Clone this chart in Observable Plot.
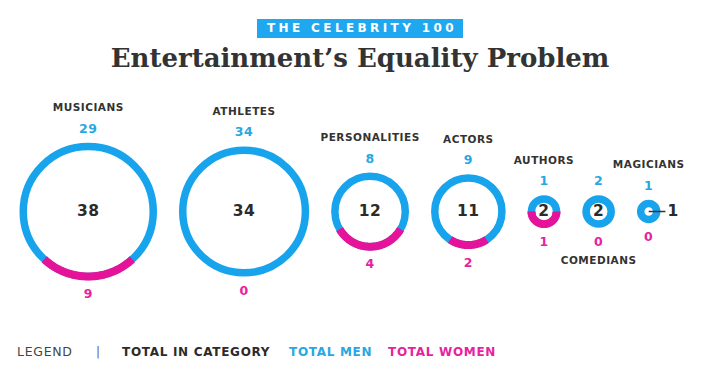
<!DOCTYPE html>
<html>
<head>
<meta charset="utf-8">
<script src="https://cdn.jsdelivr.net/npm/d3@7"></script>
<script src="https://cdn.jsdelivr.net/npm/@observablehq/plot@0.6"></script>
<style>
  html, body { margin: 0; padding: 0; background: #fff; }
  #wrap { position: relative; width: 720px; height: 378px; overflow: hidden; font-family: "DejaVu Sans", sans-serif; }
  #badge { position: absolute; top: 17px; left: 0; width: 720px; text-align: center; }
  #badge span { display: inline-block; background: #1fa8ef; color: #fff; font-weight: bold; font-size: 12px; letter-spacing: 3.4px; line-height: 19px; height: 19px; padding: 0 6px 0 10px; }
  #title { position: absolute; top: 45px; left: 0; width: 720px; text-align: center; font-family: "DejaVu Serif", serif; font-weight: bold; font-size: 26px; line-height: 26px; color: #333; }
  #chart { position: absolute; top: 85px; left: 0; width: 720px; }
  #chart svg text { letter-spacing: 0.5px; }
  #legend span { position: absolute; top: 344px; line-height: 16px; font-size: 12px; letter-spacing: 0.7px; white-space: nowrap; }
</style>
</head>
<body>
<div id="wrap">
  <div id="badge"><span>THE CELEBRITY 100</span></div>
  <div id="title">Entertainment’s Equality Problem</div>
  <div id="chart"></div>
  <div id="legend">
    <span style="left:17px;color:#444;font-size:12.5px;">LEGEND</span>
    <span style="left:96px;color:#666;">|</span>
    <span style="left:122px;color:#2b2b2b;font-weight:bold;">TOTAL IN CATEGORY</span>
    <span style="left:289px;color:#27a7e3;font-weight:bold;">TOTAL MEN</span>
    <span style="left:388px;color:#e8229f;font-weight:bold;">TOTAL WOMEN</span>
  </div>
</div>
<script>
// ---- data ----
const categories = ["MUSICIANS", "ATHLETES", "PERSONALITIES", "ACTORS", "AUTHORS", "COMEDIANS", "MAGICIANS"];
const totals = [38, 34, 12, 11, 2, 2, 1];
const men = [29, 34, 8, 9, 1, 2, 1];
const women = [9, 0, 4, 2, 1, 0, 0];

// ---- styling / layout ----
const blue = "#17a4ec", pink = "#e5129a";
const menColor = "#27a7e3", womenColor = "#e8229f", dark = "#2b2b2b";
const rSpec = {type: "sqrt", domain: [1, 38], range: [8, 65]};
const rScale = Plot.scale({r: rSpec});
const SW = 7.5;        // ring thickness
const GAP = 22;        // gap between rings
let edge = 19;
const rows = categories.map((c, i) => {
  const rc = rScale.apply(totals[i]);
  const R = rc + SW / 2;
  const cx = edge + R;
  edge = cx + R + GAP;
  return {category: c, total: totals[i], men: men[i], women: women[i], cx, rc, R};
});

// women arcs centred at the bottom of each ring
const arcs = rows.filter(d => d.women > 0).flatMap(d => {
  const f = d.women / d.total, n = 90;
  return d3.range(n + 1).map(k => {
    const a = Math.PI - f * Math.PI + 2 * f * Math.PI * k / n;
    return {category: d.category, x: d.cx + d.rc * Math.sin(a), y: -d.rc * Math.cos(a)};
  });
});

const inside = rows.filter(d => d.R >= 14);
const outside = rows.filter(d => d.R < 14);

const chart = Plot.plot({
  width: 720,
  height: 245,
  margin: 0,
  style: {fontFamily: "DejaVu Sans", background: "transparent"},
  x: {domain: [0, 720], range: [0, 720], axis: null},
  y: {domain: [-126, 119], range: [0, 245], axis: null},
  r: rSpec,
  marks: [
    Plot.dot(rows, {x: "cx", y: 0, r: "total", stroke: blue, strokeWidth: SW, fill: "white"}),
    Plot.line(arcs, {x: "x", y: "y", z: "category", stroke: pink, strokeWidth: SW + 0.5, strokeLinecap: "butt"}),
    Plot.link(outside, {x1: "cx", y1: 0, x2: d => d.cx + d.R + 5, y2: 0, stroke: "#333", strokeWidth: 1.5}),
    Plot.text(inside, {x: "cx", y: 0, text: d => String(d.total), fontSize: 15.5, fontWeight: "bold", fill: dark}),
    Plot.text(outside, {x: d => d.cx + d.R + 7, y: 0, text: d => String(d.total), textAnchor: "start", fontSize: 15.5, fontWeight: "bold", fill: dark}),
    Plot.text(rows, {x: "cx", y: d => -(d.R + 14), text: d => String(d.men), fontSize: 12.5, fontWeight: "bold", fill: menColor}),
    Plot.text(rows, {x: "cx", y: d => d.R + 14, text: d => String(d.women), fontSize: 12.5, fontWeight: "bold", fill: womenColor}),
    Plot.text(rows, {x: "cx", y: d => d.category === "COMEDIANS" ? d.R + 33 : -(d.R + 35), text: "category", fontSize: 10.5, fontWeight: "bold", fill: "#333"})
  ]
});
document.getElementById("chart").appendChild(chart);
</script>
</body>
</html>
